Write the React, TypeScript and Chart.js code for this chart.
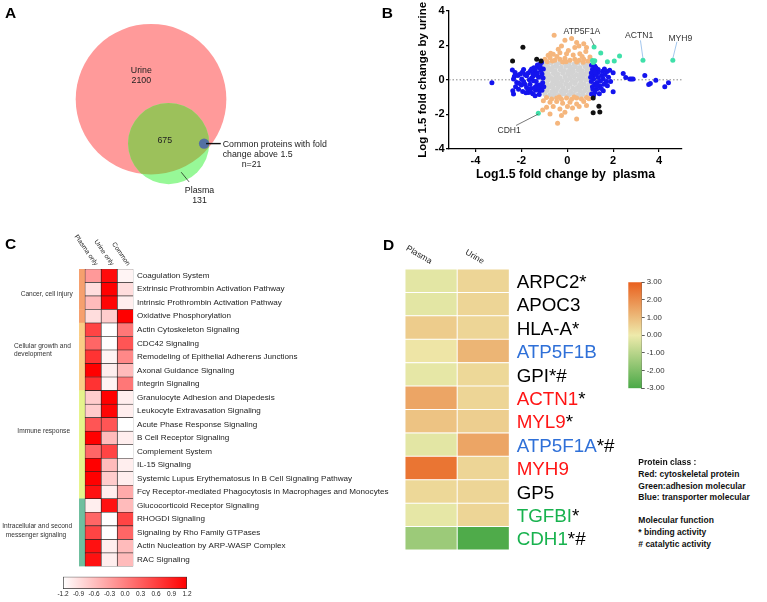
import React, { useEffect, useRef } from 'react';
import { Chart, registerables } from 'chart.js';
Chart.register(...registerables);

const FONT = '"Liberation Sans", Arial, Helvetica, sans-serif';

/* ================= Panel A : Venn ================= */
const VENN_SETS = ['Urine', 'Plasma'];
const VENN_ONLY = [2100, 131];
const VENN_SHARED = 675;
const VENN_FOLD_N = 21;
const VENN_TOTALS = [VENN_ONLY[0] + VENN_SHARED, VENN_ONLY[1] + VENN_SHARED];

/* ================= Panel B : scatter ================= */
const B_X_TICKS = [-4, -2, 0, 2, 4];
const B_Y_TICKS = [-4, -2, 0, 2, 4];
const B_CYAN: number[][] = [
  [1.17, 1.9], [1.46, 1.55], [1.1, 1.12], [1.15, 1.05], [1.2, 1.1], [1.13, 1.0], [1.75, 1.05],
  [2.05, 1.08], [2.28, 1.38], [3.3, 1.13], [4.6, 1.13], [-1.26, -1.93],
];
const B_BLACK: number[][] = [
  [-2.38, 1.09], [-1.93, 1.88], [-1.33, 1.19], [-1.14, 1.09], [1.13, -1.05], [1.38, -1.53], [1.13, -1.91], [1.42, -1.86],
];
const B_BLUE: number[][] = [
  [-3.28, -0.17],
  [-2.39, 0.56], [-2.27, 0.42], [-2.34, 0.04], [-2.2, -0.15], [-2.37, -0.63], [-2.34, -0.82], [-2.3, 0.2], [-2.15, 0.25],
  [-2.05, 0.33], [-1.98, 0.04], [-1.84, -0.25], [-1.77, -0.44], [-1.94, -0.67], [-1.69, -0.73], [-2.12, -0.54], [-1.9, -0.1],
  [-2.0, -0.3], [-1.85, 0.3], [-1.77, 0.23], [-1.6, 0.52], [-1.62, -0.25], [-1.47, -0.06], [-1.47, 0.23], [-1.4, 0.52],
  [-1.55, 0.1], [-1.58, -0.5], [-1.5, -0.8], [-1.65, 0.0], [-1.7, -0.55], [-1.33, -0.33], [-1.21, -0.63], [-1.4, -0.92],
  [-1.26, 0.71], [-1.19, 0.9], [-1.12, 1.0], [-1.07, -0.17], [-1.1, 0.33], [-1.04, 0.62], [-1.14, -0.44], [-1.3, 0.4],
  [-1.25, 0.15], [-1.35, -0.1], [-1.2, -0.3], [-1.15, 0.55], [-1.3, 0.85], [-1.22, -0.85], [-1.1, -0.6], [-1.05, 0.1],
  [-1.18, 0.75], [-1.38, -0.6], [-1.45, 0.7], [-1.28, -0.45], [-1.12, 0.2], [-1.02, -0.4], [-1.35, 0.3], [-1.5, 0.35],
  [-1.42, -0.45], [-1.6, -0.7], [-1.8, -0.75], [-1.95, 0.45], [-2.1, -0.2], [-2.25, -0.4], [-1.9, 0.6], [-1.7, 0.4], [-1.55, 0.62],
  [1.06, 0.84], [1.2, 0.8], [1.35, 0.6], [1.54, 0.5], [1.74, 0.48], [2.0, 0.41], [2.44, 0.36], [2.55, 0.13], [2.73, 0.04],
  [2.8, 0.04], [2.87, 0.04], [3.38, 0.25], [3.62, -0.21], [3.55, -0.27], [3.86, -0.02], [4.25, -0.4], [4.41, -0.17],
  [1.13, 0.23], [1.35, 0.13], [1.57, 0.04], [1.71, -0.1], [1.89, -0.1], [1.2, -0.25], [1.42, -0.35], [1.28, -0.54],
  [1.2, -0.73], [1.57, -0.63], [2.0, -0.69], [1.06, -0.82], [1.35, 0.42], [1.1, 0.6], [1.05, 0.4], [1.15, 0.05],
  [1.05, -0.1], [1.1, -0.4], [1.25, 0.3], [1.3, -0.15], [1.45, -0.05], [1.5, 0.25], [1.6, -0.25], [1.25, 0.7],
  [1.15, -0.9], [1.4, -0.8], [1.65, 0.3], [1.8, 0.15], [1.75, -0.35], [1.2, 0.45], [1.02, 0.15], [1.3, -0.35],
  [1.48, -0.5], [1.12, -0.55], [1.62, 0.62], [1.85, 0.55],
];
const B_ORANGE: number[][] = [
  [-0.57, 2.57], [-0.1, 2.28], [0.19, 2.39], [0.41, 2.16], [0.72, 2.09], [0.51, 1.95], [-0.25, 1.95], [-0.72, 1.53],
  [-0.83, 1.42], [-0.61, 1.48], [-0.32, 1.57], [-0.03, 1.51], [0.26, 1.44], [0.55, 1.51], [0.81, 1.63], [0.99, 1.32],
  [-0.97, 1.19], [-0.75, 1.28], [-0.54, 1.13], [-0.32, 1.19], [-0.1, 1.25], [0.12, 1.13], [0.33, 1.19], [0.52, 1.13],
  [0.72, 1.19], [0.91, 1.09], [-0.87, 1.05], [-0.2, 1.03], [0.41, 1.03], [-0.39, 1.76], [0.33, 1.86], [0.84, 1.86],
  [-0.45, 1.35], [0.05, 1.7], [0.65, 1.35], [-0.05, 1.05], [0.7, 1.02], [-0.65, 1.08],
  [-0.9, -1.02], [-0.68, -1.11], [-0.46, -1.05], [-0.25, -1.13], [-0.03, -1.05], [0.19, -1.13], [0.41, -1.05], [0.62, -1.11],
  [0.84, -1.02], [-1.04, -1.21], [-0.75, -1.3], [-0.46, -1.25], [-0.2, -1.36], [0.12, -1.3], [0.41, -1.4], [0.72, -1.25],
  [-0.9, -1.59], [-0.61, -1.55], [-0.32, -1.69], [0.01, -1.55], [0.23, -1.63], [0.52, -1.55], [-1.07, -1.74], [-0.25, -2.07],
  [-0.75, -1.97], [-0.42, -2.51], [0.41, -2.26], [-0.1, -1.88], [0.84, -1.49], [0.95, -1.1], [-0.35, -1.0], [0.3, -1.0],
];
const B_GREY: number[][] = [
  [-0.92, 0.93], [-0.71, 0.97], [-0.5, 0.92], [-0.33, 0.98], [-0.1, 0.94], [0.08, 0.96], [0.3, 0.91], [0.47, 0.97], [0.69, 0.94], [0.88, 0.9],
  [-1.04, 0.74], [-0.86, 0.78], [-0.64, 0.72], [-0.45, 0.77], [-0.26, 0.73], [-0.05, 0.79], [0.14, 0.74], [0.36, 0.76], [0.55, 0.71], [0.77, 0.77], [0.97, 0.73],
  [-1.08, 0.55], [-0.9, 0.52], [-0.7, 0.57], [-0.52, 0.53], [-0.3, 0.58], [-0.12, 0.54], [0.1, 0.56], [0.27, 0.51], [0.48, 0.57], [0.66, 0.53], [0.86, 0.56], [1.05, 0.52],
  [-1.02, 0.35], [-0.82, 0.32], [-0.6, 0.37], [-0.41, 0.34], [-0.2, 0.38], [0.02, 0.33], [0.19, 0.36], [0.4, 0.31], [0.58, 0.37], [0.79, 0.34], [1.0, 0.36],
  [-1.1, 0.15], [-0.9, 0.17], [-0.72, 0.13], [-0.5, 0.16], [-0.31, 0.12], [-0.1, 0.17], [0.11, 0.14], [0.3, 0.18], [0.52, 0.13], [0.7, 0.16], [0.91, 0.12], [1.08, 0.17],
  [-1.05, -0.05], [-0.84, -0.03], [-0.63, -0.07], [-0.44, -0.04], [-0.22, -0.06], [0.0, -0.02], [0.21, -0.07], [0.4, -0.04], [0.61, -0.06], [0.82, -0.03], [1.02, -0.05],
  [-1.09, -0.25], [-0.88, -0.22], [-0.68, -0.27], [-0.49, -0.24], [-0.28, -0.28], [-0.07, -0.23], [0.13, -0.26], [0.33, -0.22], [0.54, -0.27], [0.73, -0.24], [0.93, -0.28], [1.07, -0.22],
  [-1.03, -0.45], [-0.8, -0.43], [-0.6, -0.47], [-0.39, -0.44], [-0.18, -0.46], [0.03, -0.42], [0.24, -0.47], [0.44, -0.45], [0.63, -0.43], [0.84, -0.47], [1.03, -0.44],
  [-1.06, -0.65], [-0.87, -0.62], [-0.66, -0.67], [-0.47, -0.63], [-0.25, -0.66], [-0.05, -0.64], [0.15, -0.68], [0.36, -0.62], [0.57, -0.66], [0.76, -0.63], [0.97, -0.67],
  [-0.97, -0.84], [-0.76, -0.87], [-0.55, -0.83], [-0.35, -0.86], [-0.14, -0.82], [0.07, -0.87], [0.27, -0.84], [0.48, -0.86], [0.68, -0.83], [0.9, -0.85],
  [-0.62, -0.98], [-0.3, -1.0], [0.0, -0.97], [0.31, -0.99], [0.6, -0.96],
  [-0.8, 0.64], [0.2, 0.64], [-0.4, -0.15], [0.6, 0.25], [-0.2, -0.75], [0.45, -0.55], [0.9, 0.45], [-0.95, -0.35], [0.05, 0.45], [-0.55, 0.05],
];
const B_ANNOT = ['ATP5F1A', 'ACTN1', 'MYH9', 'CDH1'];
const B_ANNOT_POINT: number[][] = [[1.17, 1.9], [3.3, 1.13], [4.6, 1.13], [-1.26, -1.93]];

/* ================= Panel C : pathway heatmap ================= */
const C_COLUMNS = ['Plasma only', 'Urine only', 'Common'];
const C_PATHWAYS = [
  'Coagulation System',
  'Extrinsic Prothrombin Activation Pathway',
  'Intrinsic Prothrombin Activation Pathway',
  'Oxidative Phosphorylation',
  'Actin Cytoskeleton Signaling',
  'CDC42 Signaling',
  'Remodeling of Epithelial Adherens Junctions',
  'Axonal Guidance Signaling',
  'Integrin Signaling',
  'Granulocyte Adhesion and Diapedesis',
  'Leukocyte Extravasation Signaling',
  'Acute Phase Response Signaling',
  'B Cell Receptor Signaling',
  'Complement System',
  'IL-15 Signaling',
  'Systemic Lupus Erythematosus In B Cell Signaling Pathway',
  'Fcγ Receptor-mediated Phagocytosis in Macrophages and Monocytes',
  'Glucocorticoid Receptor Signaling',
  'RHOGDI Signaling',
  'Signaling by Rho Family GTPases',
  'Actin Nucleation by ARP-WASP Complex',
  'RAC Signaling',
];
const C_PLASMA_ONLY = [-0.24, -0.88, -0.56, -0.88, 0.56, 0.24, 0.72, 1.2, 0.72, -0.72, -0.72, 0.4, 1.2, 0.24, 1.2, 1.2, 1.04, -1.04, 0.24, 0.56, 1.04, 1.04];
const C_URINE_ONLY = [1.1, 1.2, 1.15, -0.72, -1.2, -1.2, -1.1, -1.04, -1.1, 1.2, 1.15, 0.4, -0.56, 0.56, -0.56, -0.72, -1.04, 1.04, -1.2, -1.2, -1.04, -1.04];
const C_COMMON = [-1.1, -0.88, -1.04, 1.2, 0.08, 0.4, -0.08, -0.56, 0.08, -1.04, -1.04, -1.2, -1.04, -1.2, -1.04, -1.04, -0.4, -0.56, 0.56, 0.24, -0.56, -0.56];
const C_GROUPS = ['Cancer, cell injury', 'Cellular growth and development', 'Immune response', 'Intracellular and second messenger signaling'];
const C_GROUP_SIZES = [4, 5, 8, 5];
const C_SCALE_TICKS = [-1.2, -0.9, -0.6, -0.3, 0, 0.3, 0.6, 0.9, 1.2];

/* ================= Panel D : protein heatmap ================= */
const D_COLUMNS = ['Plasma', 'Urine'];
const D_PROTEINS = ['ARPC2', 'APOC3', 'HLA-A', 'ATP5F1B', 'GPI', 'ACTN1', 'MYL9', 'ATP5F1A', 'MYH9', 'GP5', 'TGFBI', 'CDH1'];
const D_FUNCTION_MARKS = ['*', '', '*', '', '*#', '*', '*', '*#', '', '', '*', '*#'];
const D_CLASS = ['none', 'none', 'none', 'transporter', 'none', 'cytoskeletal', 'cytoskeletal', 'transporter', 'cytoskeletal', 'none', 'adhesion', 'adhesion'];
const D_PLASMA = [-0.2, -0.2, 0.65, 0.1, -0.15, 1.5, 0.85, -0.2, 2.55, 0.4, -0.15, -1.5];
const D_URINE = [0.45, 0.45, 0.45, 1.15, 0.4, 0.45, 0.6, 1.5, 0.45, 0.45, 0.45, -2.9];
const D_SCALE_TICKS = [3, 2, 1, 0, -1, -2, -3];

/* ================= styles ================= */
const CLASS_COLORS: Record<string, string> = { none: '#000', cytoskeletal: '#ff1414', adhesion: '#18b24e', transporter: '#2f70d8' };
const GROUP_COLORS = ['#f6a06e', '#fbcd86', '#e6f48c', '#6fbf9f'];
const DIV_LOW = [74, 169, 71];
const DIV_MID = [238, 234, 171];
const DIV_HIGH = [233, 96, 30];

function mix(a: number[], b: number[], t: number) {
  const c = a.map((v, i) => Math.round(v + (b[i] - v) * t));
  return `rgb(${c[0]},${c[1]},${c[2]})`;
}
function redScale(v: number) {
  const t = Math.max(0, Math.min(1, (v + 1.2) / 2.4));
  return mix([255, 255, 255], [255, 0, 0], t);
}
function divScale(v: number) {
  const t = Math.max(-1, Math.min(1, v / 3));
  return t >= 0 ? mix(DIV_MID, DIV_HIGH, t) : mix(DIV_MID, DIV_LOW, -t);
}
function okNum(...v: number[]) {
  return v.every((n) => Number.isFinite(n));
}

const noInteract = {
  responsive: false,
  animation: false,
  events: [] as any[],
};
const noPlugins = { legend: { display: false }, tooltip: { enabled: false } };

/* ---------- Venn chart ---------- */
const VENN_PX = 1.47; // pixels per sqrt(count)
const VENN_CENTRES = [[102.0, 67.0], [114.3, 98.6]];
const VENN_DOT = [139.1, 98.6];
const VENN_LINKS = [[140.5, 98.6, 150.8, 98.6, 1.4], [123.1, 119.0, 128.6, 125.9, 0.7]];

function rPx(chart: any, n: number) {
  const xs = chart.scales.x;
  if (!xs) return 0;
  const r = xs.getPixelForValue(Math.sqrt(n)) - xs.getPixelForValue(0);
  return Number.isFinite(r) ? r : 0;
}

function makeVenn() {
  const vennPlugin = {
    id: 'vennOverlap',
    afterDatasetDraw(chart: any, args: any) {
      if (args.index !== 1) return;
      const { ctx } = chart;
      const xs = chart.scales.x, ys = chart.scales.y;
      ctx.save();
      ctx.beginPath();
      ctx.arc(xs.getPixelForValue(VENN_CENTRES[0][0]), ys.getPixelForValue(VENN_CENTRES[0][1]), rPx(chart, VENN_TOTALS[0]), 0, Math.PI * 2);
      ctx.clip();
      ctx.beginPath();
      ctx.arc(xs.getPixelForValue(VENN_CENTRES[1][0]), ys.getPixelForValue(VENN_CENTRES[1][1]), rPx(chart, VENN_TOTALS[1]), 0, Math.PI * 2);
      ctx.fillStyle = '#9cc15b';
      ctx.fill();
      ctx.restore();
    },
    afterDraw(chart: any) {
      const { ctx } = chart;
      const xs = chart.scales.x, ys = chart.scales.y;
      ctx.save();
      ctx.strokeStyle = '#111';
      VENN_LINKS.forEach(([x1, y1, x2, y2, w]) => {
        ctx.lineWidth = w;
        ctx.beginPath();
        ctx.moveTo(xs.getPixelForValue(x1), ys.getPixelForValue(y1));
        ctx.lineTo(xs.getPixelForValue(x2), ys.getPixelForValue(y2));
        ctx.stroke();
      });
      ctx.restore();
    },
  };
  const radius = (c: any) => (c.raw && c.raw.n ? rPx(c.chart, c.raw.n) : 0);
  return {
    type: 'scatter',
    data: {
      datasets: [
        { label: 'fold', data: [{ x: VENN_DOT[0], y: VENN_DOT[1] }], pointRadius: 5.2, backgroundColor: '#5470a3', borderWidth: 0 },
        { label: VENN_SETS[1], data: [{ x: VENN_CENTRES[1][0], y: VENN_CENTRES[1][1], n: VENN_TOTALS[1] }], pointRadius: radius, backgroundColor: '#97f897', borderWidth: 0 },
        { label: VENN_SETS[0], data: [{ x: VENN_CENTRES[0][0], y: VENN_CENTRES[0][1], n: VENN_TOTALS[0] }], pointRadius: radius, backgroundColor: '#ff9a9a', borderWidth: 0 },
      ],
    },
    options: {
      ...noInteract,
      layout: { padding: 0 },
      plugins: noPlugins,
      scales: {
        x: { type: 'linear', min: 0, max: 380 / VENN_PX, display: false },
        y: { type: 'linear', min: 0, max: 230 / VENN_PX, reverse: true, display: false },
      },
    },
    plugins: [vennPlugin],
  };
}

/* ---------- Scatter chart ---------- */
const B_ANNOT_TEXT_POS = [[0.64, 2.63], [3.13, 2.4], [4.93, 2.24], [-2.53, -3.09]];
const B_ANNOT_LINE_START = [[1.02, 2.4], [3.19, 2.28], [4.78, 2.2], [-2.23, -2.64]];
const B_ANNOT_LINE_COLORS = ['#555', '#8ab8e8', '#8ab8e8', '#555'];

function makeScatter() {
  const pts = (arr: number[][]) => arr.map(([x, y]) => ({ x, y }));
  const set = (label: string, arr: number[][], color: string) => ({
    label, data: pts(arr), backgroundColor: color, pointRadius: 2.5, pointHoverRadius: 2.5, borderWidth: 0,
  });
  const annotPlugin = {
    id: 'annot',
    afterDraw(chart: any) {
      const { ctx } = chart;
      const xs = chart.scales.x, ys = chart.scales.y;
      ctx.save();
      B_ANNOT.forEach((name, i) => {
        const [sx, sy] = B_ANNOT_LINE_START[i];
        const [px, py] = B_ANNOT_POINT[i];
        const dy = py > 0 ? 0.1 : -0.05;
        ctx.strokeStyle = B_ANNOT_LINE_COLORS[i];
        ctx.lineWidth = 0.8;
        ctx.beginPath();
        ctx.moveTo(xs.getPixelForValue(sx), ys.getPixelForValue(sy));
        ctx.lineTo(xs.getPixelForValue(px), ys.getPixelForValue(py + dy));
        ctx.stroke();
        ctx.fillStyle = '#333';
        ctx.font = `8.6px ${FONT}`;
        ctx.textAlign = 'center';
        ctx.textBaseline = 'alphabetic';
        ctx.fillText(name, xs.getPixelForValue(B_ANNOT_TEXT_POS[i][0]), ys.getPixelForValue(B_ANNOT_TEXT_POS[i][1]));
      });
      ctx.restore();
    },
  };
  const tickFont = { family: FONT, size: 11, weight: 'bold' };
  const axisGrid = { display: true, drawOnChartArea: false, drawTicks: true, tickLength: 3, color: '#000', lineWidth: 1.2 };
  const axisBorder = { display: true, color: '#000', width: 1.3 };
  return {
    type: 'scatter',
    data: {
      datasets: [
        set('common FC>1.5', B_CYAN, '#3fe0a9'),
        set('other', B_BLACK, '#111'),
        set('both', B_BLUE, '#1414ee'),
        set('urine', B_ORANGE, '#f5b67d'),
        set('none', B_GREY, '#d3d3d3'),
        {
          type: 'line', label: 'zero', data: [{ x: -5.15, y: 0 }, { x: 5, y: 0 }],
          borderColor: '#888', borderWidth: 1, borderDash: [1.5, 2], pointRadius: 0, fill: false,
        },
      ],
    },
    options: {
      ...noInteract,
      layout: { padding: { left: 0, right: 85, top: 10.6, bottom: 0 } },
      plugins: noPlugins,
      scales: {
        x: {
          type: 'linear', min: -5.15, max: 5,
          afterBuildTicks: (s: any) => { s.ticks = B_X_TICKS.map((v) => ({ value: v })); },
          afterFit: (s: any) => { s.height = 51; },
          ticks: { font: tickFont, color: '#000', padding: 2.4, maxRotation: 0, minRotation: 0 },
          grid: axisGrid, border: axisBorder,
          title: { display: true, text: 'Log1.5 fold change by  plasma', color: '#000', font: { family: FONT, size: 12.3, weight: 'bold' }, padding: { top: 0, bottom: 17.6 } },
        },
        y: {
          type: 'linear', min: -4, max: 4,
          afterBuildTicks: (s: any) => { s.ticks = B_Y_TICKS.map((v) => ({ value: v })); },
          afterFit: (s: any) => { s.width = 69; },
          ticks: { font: tickFont, color: '#000', padding: 1.5 },
          grid: axisGrid, border: axisBorder,
          title: { display: true, text: 'Log 1.5 fold change by urine', color: '#000', font: { family: FONT, size: 11.5, weight: 'bold' }, padding: { top: 36.4, bottom: 0 } },
        },
      },
    },
    plugins: [annotPlugin],
  };
}

/* ---------- Pathway heatmap ---------- */
const C_STRIP = 0.375;
const C_GROUP_TEXT = [
  { line: 'Cancer, cell injury', row: 1.35, x: 46.7, align: 'center' },
  { line: 'Cellular growth and', row: 5.19, x: 14, align: 'left' },
  { line: 'development', row: 5.84, x: 14, align: 'left' },
  { line: 'Immune response', row: 11.47, x: 43.7, align: 'center' },
  { line: 'Intracellular and second', row: 18.49, x: 37.2, align: 'center' },
  { line: 'messenger signaling', row: 19.2, x: 36, align: 'center' },
];

function makeHeatC() {
  const groupOfRow: number[] = [];
  C_GROUP_SIZES.forEach((n, g) => { for (let i = 0; i < n; i++) groupOfRow.push(g); });
  const values = [C_PLASMA_ONLY, C_URINE_ONLY, C_COMMON];
  const cellOpts = { grouped: false, barPercentage: 1, categoryPercentage: 1, borderSkipped: false };
  const plugin = {
    id: 'heatCText',
    afterDraw(chart: any) {
      const { ctx, chartArea } = chart;
      const xs = chart.scales.x, ys = chart.scales.y;
      ctx.save();
      ctx.fillStyle = '#222';
      ctx.font = `6.6px ${FONT}`;
      C_COLUMNS.forEach((name, i) => {
        ctx.save();
        ctx.translate(xs.getPixelForValue(i + 0.5) + 1.8, chartArea.top - 3);
        ctx.rotate((55 * Math.PI) / 180);
        ctx.textAlign = 'right';
        ctx.textBaseline = 'alphabetic';
        ctx.fillText(name, 0, 0);
        ctx.restore();
      });
      ctx.fillStyle = '#333';
      ctx.textBaseline = 'middle';
      C_GROUP_TEXT.forEach((t) => {
        ctx.textAlign = t.align;
        ctx.fillText(t.line, t.x, ys.getPixelForValue(t.row));
      });
      ctx.restore();
    },
  };
  return {
    type: 'bar',
    data: {
      labels: C_PATHWAYS,
      datasets: [
        ...C_COLUMNS.map((name, ci) => ({
          label: name,
          data: C_PATHWAYS.map(() => [ci, ci + 1]),
          backgroundColor: values[ci].map(redScale),
          borderColor: '#222',
          borderWidth: 0.6,
          ...cellOpts,
        })),
        {
          label: C_GROUPS.join(' / '),
          data: C_PATHWAYS.map(() => [-C_STRIP, 0]),
          backgroundColor: groupOfRow.map((g) => GROUP_COLORS[g]),
          borderWidth: 0,
          ...cellOpts,
        },
      ],
    },
    options: {
      ...noInteract,
      indexAxis: 'y',
      layout: { padding: { left: 79, top: 38.9, bottom: 8.2, right: 0 } },
      plugins: noPlugins,
      scales: {
        x: { type: 'linear', min: -C_STRIP, max: 3, display: false },
        y: {
          type: 'category', position: 'right',
          grid: { display: false, drawTicks: false, tickLength: 0 },
          border: { display: false },
          ticks: { autoSkip: false, padding: 3.7, color: '#222', font: { family: FONT, size: 8.1 } },
          afterFit: (s: any) => { s.width = 266.7; },
        },
      },
    },
    plugins: [plugin],
  };
}

function makeLegendC() {
  return {
    type: 'bar',
    data: {
      labels: ['scale'],
      datasets: [{
        data: [[C_SCALE_TICKS[0], C_SCALE_TICKS[C_SCALE_TICKS.length - 1]]],
        backgroundColor: (c: any) => {
          const xs = c.chart.scales.x;
          if (!xs) return redScale(0);
          const a = xs.getPixelForValue(-1.2), b = xs.getPixelForValue(1.2);
          if (!okNum(a, b) || a === b) return redScale(0);
          const g = c.chart.ctx.createLinearGradient(a, 0, b, 0);
          g.addColorStop(0, redScale(-1.2));
          g.addColorStop(1, redScale(1.2));
          return g;
        },
        borderColor: '#333', borderWidth: 1, borderSkipped: false, barPercentage: 1, categoryPercentage: 1,
      }],
    },
    options: {
      ...noInteract,
      indexAxis: 'y',
      layout: { padding: { left: 23, right: 23, top: 6.7, bottom: 0 } },
      plugins: noPlugins,
      scales: {
        y: { display: false },
        x: {
          type: 'linear', min: -1.2, max: 1.2,
          afterBuildTicks: (s: any) => { s.ticks = C_SCALE_TICKS.map((v) => ({ value: v })); },
          afterFit: (s: any) => { s.height = 13; },
          ticks: {
            padding: 1, color: '#222', font: { family: FONT, size: 6.5 }, autoSkip: false, maxRotation: 0, minRotation: 0,
            callback: (v: any) => Number(v).toFixed(1),
          },
          grid: { display: false, drawTicks: false },
          border: { display: false },
        },
      },
    },
  };
}

/* ---------- Protein heatmap ---------- */
function makeHeatD() {
  const values = [D_PLASMA, D_URINE];
  const plugin = {
    id: 'heatDText',
    afterDraw(chart: any) {
      const { ctx, chartArea } = chart;
      const xs = chart.scales.x, ys = chart.scales.y;
      ctx.save();
      ctx.font = `18.8px ${FONT}`;
      ctx.textAlign = 'left';
      ctx.textBaseline = 'middle';
      D_PROTEINS.forEach((name, i) => {
        const x = chartArea.right + 7.4;
        const y = ys.getPixelForValue(i) + 2;
        ctx.fillStyle = CLASS_COLORS[D_CLASS[i]];
        ctx.fillText(name, x, y);
        const w = ctx.measureText(name).width;
        ctx.fillStyle = '#000';
        ctx.fillText(D_FUNCTION_MARKS[i], x + w, y);
      });
      ctx.fillStyle = '#222';
      ctx.font = `8.5px ${FONT}`;
      D_COLUMNS.forEach((name, i) => {
        ctx.save();
        ctx.translate(xs.getPixelForValue(i + 0.5) - 1, chartArea.top - 5);
        ctx.rotate((30 * Math.PI) / 180);
        ctx.textAlign = 'right';
        ctx.textBaseline = 'alphabetic';
        ctx.fillText(name, 0, 0);
        ctx.restore();
      });
      ctx.restore();
    },
  };
  return {
    type: 'bar',
    data: {
      labels: D_PROTEINS,
      datasets: D_COLUMNS.map((name, ci) => ({
        label: name,
        data: D_PROTEINS.map(() => [ci, ci + 1]),
        backgroundColor: values[ci].map(divScale),
        borderColor: '#fff', borderWidth: 0.8, borderSkipped: false,
        grouped: false, barPercentage: 1, categoryPercentage: 1,
      })),
    },
    options: {
      ...noInteract,
      indexAxis: 'y',
      layout: { padding: { left: 25, right: 120.7, top: 39, bottom: 20 } },
      plugins: noPlugins,
      scales: {
        x: { type: 'linear', min: 0, max: 2, display: false },
        y: { type: 'category', display: false },
      },
    },
    plugins: [plugin],
  };
}

function makeScaleD() {
  return {
    type: 'bar',
    data: {
      labels: ['scale'],
      datasets: [{
        data: [[D_SCALE_TICKS[D_SCALE_TICKS.length - 1], D_SCALE_TICKS[0]]],
        backgroundColor: (c: any) => {
          const ys = c.chart.scales.y;
          if (!ys) return divScale(0);
          const a = ys.getPixelForValue(3), b = ys.getPixelForValue(-3);
          if (!okNum(a, b) || a === b) return divScale(0);
          const g = c.chart.ctx.createLinearGradient(0, a, 0, b);
          g.addColorStop(0, divScale(3));
          g.addColorStop(0.5, divScale(0));
          g.addColorStop(1, divScale(-3));
          return g;
        },
        borderWidth: 0, barPercentage: 1, categoryPercentage: 1,
      }],
    },
    options: {
      ...noInteract,
      layout: { padding: { left: 28.3, right: 0, top: 12.3, bottom: 11.7 } },
      plugins: noPlugins,
      scales: {
        x: { display: false },
        y: {
          type: 'linear', position: 'right', min: -3, max: 3,
          afterBuildTicks: (s: any) => { s.ticks = D_SCALE_TICKS.map((v) => ({ value: v })); },
          afterFit: (s: any) => { s.width = 58.3; },
          ticks: { padding: 2, color: '#333', font: { family: FONT, size: 7.8 }, callback: (v: any) => Number(v).toFixed(2) },
          grid: { display: true, drawOnChartArea: false, drawTicks: true, tickLength: 3, color: '#333', lineWidth: 0.8 },
          border: { display: true, color: '#333', width: 0.8 },
        },
      },
    },
  };
}

/* ================= components ================= */
function ChartBox({ x, y, w, h, make }: any) {
  const ref = useRef<HTMLCanvasElement | null>(null);
  useEffect(() => {
    if (!ref.current) return;
    let chart: any = null;
    try {
      chart = new Chart(ref.current, make());
    } catch (e) {
      console.error(e);
    }
    return () => { if (chart) chart.destroy(); };
  }, []);
  return (
    <div style={{ position: 'absolute', left: x, top: y, width: w, height: h }}>
      <canvas ref={ref} width={w} height={h} style={{ width: w, height: h, display: 'block' }} />
    </div>
  );
}

function Txt({ x, y, fs, bold, color = '#222', align = 'left', children }: any) {
  return (
    <div
      style={{
        position: 'absolute', left: x, top: y - 0.8465 * fs, fontSize: fs, lineHeight: `${fs}px`,
        fontWeight: bold ? 700 : 400, color, whiteSpace: 'nowrap', fontFamily: FONT,
        transform: align === 'center' ? 'translateX(-50%)' : undefined,
      }}
    >
      {children}
    </div>
  );
}

export default function App() {
  const vf = 8.8;
  const legend = [
    'Protein class :', 'Red: cytoskeletal protein', 'Green:adhesion molecular', 'Blue: transporter molecular',
  ];
  const legend2 = ['Molecular function', '* binding activity', '# catalytic activity'];
  return (
    <div style={{ position: 'absolute', left: 0, top: 0, width: 767, height: 602, background: '#fff', overflow: 'hidden', fontFamily: FONT }}>
      <ChartBox x={0} y={0} w={380} h={230} make={makeVenn} />
      <ChartBox x={380} y={0} w={387} h={200} make={makeScatter} />
      <ChartBox x={0} y={230} w={400} h={345} make={makeHeatC} />
      <ChartBox x={40} y={570} w={170} h={32} make={makeLegendC} />
      <ChartBox x={380} y={230} w={250} h={340} make={makeHeatD} />
      <ChartBox x={600} y={270} w={100} h={130} make={makeScaleD} />

      <Txt x={5} y={18.3} fs={15.5} bold color="#000">A</Txt>
      <Txt x={381.7} y={18.3} fs={15.5} bold color="#000">B</Txt>
      <Txt x={5} y={249.3} fs={15.5} bold color="#000">C</Txt>
      <Txt x={383} y={250} fs={15.5} bold color="#000">D</Txt>

      <Txt x={141.3} y={73} fs={vf} align="center">{VENN_SETS[0]}</Txt>
      <Txt x={141.3} y={83.7} fs={vf} align="center">{VENN_ONLY[0]}</Txt>
      <Txt x={164.8} y={143.3} fs={vf} align="center">{VENN_SHARED}</Txt>
      <Txt x={199.5} y={193.3} fs={vf} align="center">{VENN_SETS[1]}</Txt>
      <Txt x={199.5} y={203.3} fs={vf} align="center">{VENN_ONLY[1]}</Txt>
      <Txt x={222.7} y={147.7} fs={vf}>Common proteins with fold</Txt>
      <Txt x={222.7} y={157.7} fs={vf}>change above 1.5</Txt>
      <Txt x={241.7} y={167.7} fs={vf}>{`n=${VENN_FOLD_N}`}</Txt>

      {legend.map((t, i) => (
        <Txt key={t} x={638.3} y={465.5 + i * 11.7} fs={8.5} bold color="#111">{t}</Txt>
      ))}
      {legend2.map((t, i) => (
        <Txt key={t} x={638.3} y={523.2 + i * 12} fs={8.5} bold color="#111">{t}</Txt>
      ))}
    </div>
  );
}
